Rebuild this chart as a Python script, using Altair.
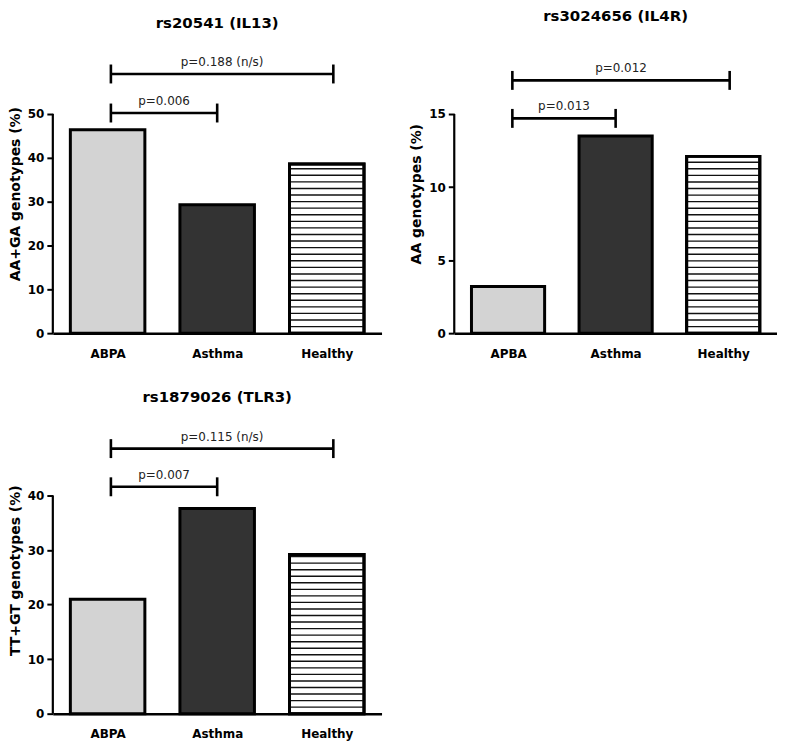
import altair as alt
import pandas as pd

FONT = "DejaVu Sans"

# ---------------- data ----------------
titles = ["rs20541 (IL13)", "rs3024656 (IL4R)", "rs1879026 (TLR3)"]
ytitles = ["AA+GA genotypes (%)", "AA genotypes (%)", "TT+GT genotypes (%)"]

groups1 = ["ABPA", "Asthma", "Healthy"]
groups2 = ["APBA", "Asthma", "Healthy"]
groups3 = ["ABPA", "Asthma", "Healthy"]

vals1 = [46.4, 29.3, 38.6]
vals2 = [3.2, 13.5, 12.1]
vals3 = [21.0, 37.6, 29.2]

yticks1 = [0, 10, 20, 30, 40, 50]
yticks2 = [0, 5, 10, 15]
yticks3 = [0, 10, 20, 30, 40]

# comparison brackets: start group index, end group index, height, label
br1_from = [0.03, 0.03]
br1_to = [1.0, 2.06]
br1_y = [50.2, 59.1]
br1_text = ["p=0.006", "p=0.188 (n/s)"]

br2_from = [0.04, 0.04]
br2_to = [1.0, 2.06]
br2_y = [14.7, 17.3]
br2_text = ["p=0.013", "p=0.012"]

br3_from = [0.03, 0.03]
br3_to = [1.0, 2.06]
br3_y = [41.6, 48.6]
br3_text = ["p=0.007", "p=0.115 (n/s)"]

# ---------------- styles ----------------
fills = ["#d3d3d3", "#333333", "#ffffff"]
HALF = 0.34  # half bar width in group units


def panel(groups, vals, yticks, ydom, width, height, bfrom, bto, by, btext,
          stripe_step, title, ytitle, toffset):
    pos = list(range(len(groups)))
    df = pd.DataFrame({"pos": pos, "group": groups, "value": vals})
    label_expr = "[" + ",".join("'%s'" % g for g in groups) + "][datum.value]"
    xscale = alt.Scale(domain=[-0.5, len(groups) - 0.5], nice=False, zero=False)
    yscale = alt.Scale(domain=[0, ydom], nice=False)

    xaxis = alt.Axis(values=pos, labelExpr=label_expr, ticks=False, grid=False,
                     domain=True, domainColor="black", domainWidth=2.5,
                     labelFont=FONT, labelFontSize=12, labelFontWeight="bold",
                     labelColor="black", labelPadding=15, title=None)
    yaxis = alt.Axis(values=yticks, domain=False, grid=False, ticks=True,
                     tickSize=6, tickWidth=2, tickColor="black",
                     labelFont=FONT, labelFontSize=12, labelFontWeight="bold",
                     labelColor="black", labelPadding=3,
                     title=ytitle, titleFont=FONT, titleFontSize=14,
                     titleFontWeight="bold", titleColor="black", titlePadding=5)

    bars = alt.Chart(df).transform_calculate(
        x0="datum.pos - %f" % HALF, x1="datum.pos + %f" % HALF
    ).mark_bar(stroke="black", strokeWidth=3).encode(
        x=alt.X("x0:Q", scale=xscale, axis=xaxis),
        x2="x1:Q",
        y=alt.Y("value:Q", scale=yscale, axis=yaxis),
        y2=alt.datum(0),
        fill=alt.Fill("group:N", scale=alt.Scale(domain=groups, range=fills), legend=None),
    )

    # horizontal hatch inside the "Healthy" bar
    hv = vals[2]
    ys = []
    k = 1
    while k * stripe_step < hv - stripe_step * 0.3:
        ys.append(round(k * stripe_step, 4))
        k += 1
    sdf = pd.DataFrame({"y": ys, "pos": [2] * len(ys)})
    stripes = alt.Chart(sdf).transform_calculate(
        x0="datum.pos - %f" % (HALF - 0.01), x1="datum.pos + %f" % (HALF - 0.01)
    ).mark_rule(color="#111111", strokeWidth=1.4).encode(
        x="x0:Q", x2="x1:Q", y="y:Q"
    )
    # redraw outline on top of stripes
    outline = alt.Chart(df[df["pos"] == 2]).transform_calculate(
        x0="datum.pos - %f" % HALF, x1="datum.pos + %f" % HALF
    ).mark_bar(stroke="black", strokeWidth=3, fillOpacity=0).encode(
        x="x0:Q", x2="x1:Q", y="value:Q", y2=alt.datum(0)
    )

    ydf = pd.DataFrame({"y0": [0], "y1": [yticks[-1]]})
    yline = alt.Chart(ydf).mark_rule(color="black", strokeWidth=2.2).encode(
        x=alt.X(datum=-0.5, type="quantitative"), y="y0:Q", y2="y1:Q"
    )

    bdf = pd.DataFrame({"x0": bfrom, "x1": bto, "y": by, "label": btext})
    brule = alt.Chart(bdf).mark_rule(color="black", strokeWidth=2.6).encode(
        x="x0:Q", x2="x1:Q", y="y:Q")
    cap0 = alt.Chart(bdf).mark_tick(orient="vertical", size=19, thickness=2.6,
                                    color="black", opacity=1).encode(x="x0:Q", y="y:Q")
    cap1 = alt.Chart(bdf).mark_tick(orient="vertical", size=19, thickness=2.6,
                                    color="black", opacity=1).encode(x="x1:Q", y="y:Q")
    btxt = alt.Chart(bdf).transform_calculate(
        xm="(datum.x0 + datum.x1) / 2"
    ).mark_text(font=FONT, fontSize=12, color="#222222", dy=-12,
                baseline="middle").encode(x="xm:Q", y="y:Q", text="label:N")

    return alt.layer(bars, stripes, outline, yline, brule, cap0, cap1, btxt).properties(
        width=width, height=height,
        title=alt.TitleParams(title, font=FONT, fontSize=15, fontWeight="bold",
                              color="black", anchor="middle", frame="group",
                              offset=toffset),
    )


p1 = panel(groups1, vals1, yticks1, 63.6, 330, 280, br1_from, br1_to, br1_y, br1_text,
           1.5, titles[0], ytitles[0], 23)
p2 = panel(groups2, vals2, yticks2, 19.09, 324, 280, br2_from, br2_to, br2_y, br2_text,
           0.45, titles[1], ytitles[1], 30)
p3 = panel(groups3, vals3, yticks3, 52.6, 330, 288, br3_from, br3_to, br3_y, br3_text,
           1.2, titles[2], ytitles[2], 22)

top = alt.hconcat(p1, p2, spacing=28)
chart = alt.vconcat(top, p3, spacing=31).properties(padding=0).configure_view(
    strokeWidth=0)

chart.save("out.html", embed_options={"renderer": "svg", "actions": False})
